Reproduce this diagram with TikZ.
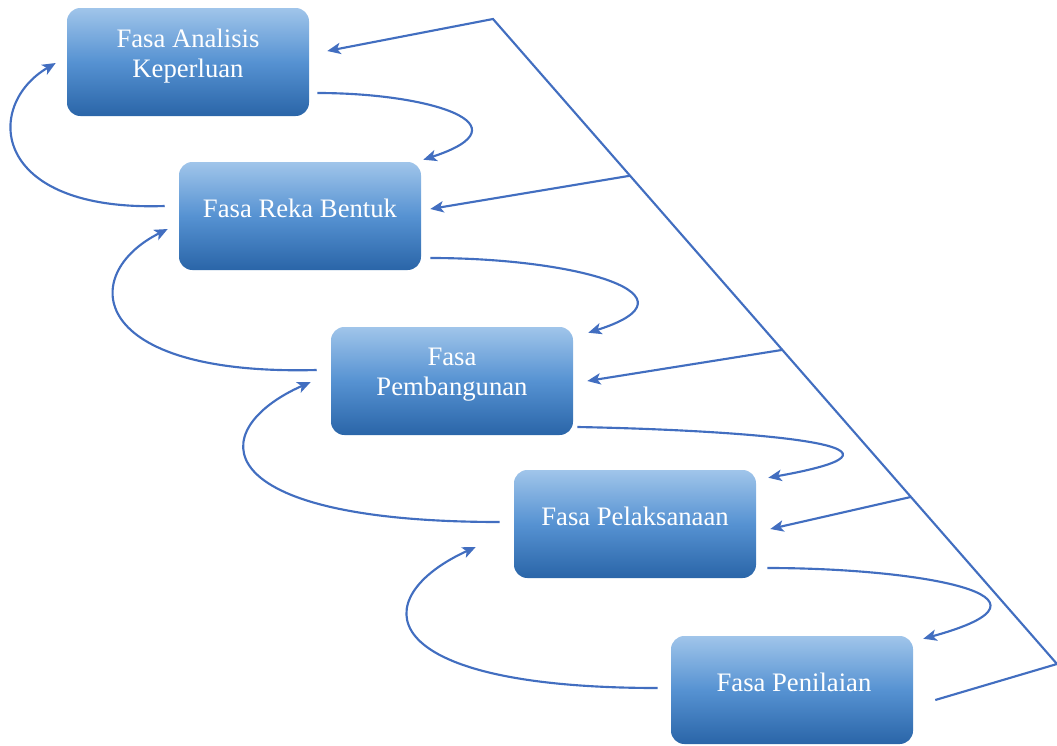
\documentclass[tikz,border=0pt]{standalone}
\usepackage{fontspec}
\setmainfont{Liberation Serif}
\usetikzlibrary{arrows.meta,calc}
\definecolor{garis}{RGB}{66,110,192}
\definecolor{atas}{RGB}{160,197,234}
\definecolor{tengah}{RGB}{86,146,210}
\definecolor{bawah}{RGB}{42,101,168}

\begin{document}
\begin{tikzpicture}[x=0.75pt, y=-0.75pt,
		fasa/.style={rectangle, rounded corners=10pt, minimum width=181.5pt, minimum height=81pt, inner sep=0pt, top color=atas, bottom color=bawah, middle color=tengah, draw=none},
		fasatext/.style={inner sep=0pt, align=center, text=white, font=\fontsize{20}{22.5}\selectfont},
		flow/.style={draw=garis, line width=1.6pt, -{Stealth[length=10pt, width=8.5pt, inset=2.5pt]}}]
		\useasboundingbox (0, 0) rectangle (1057, 746);

		\node[fasa] (b1) at (188, 62) {};
		\node[fasa] (b2) at (300, 216) {};
		\node[fasa] (b3) at (452, 381) {};
		\node[fasa] (b4) at (635, 524) {};
		\node[fasa] (b5) at (792, 690) {};

		\node[fasatext] (t1) at (188, 56) {Fasa Analisis\\Keperluan};
		\node[fasatext] (t2) at (300, 208) {Fasa Reka Bentuk};
		\node[fasatext] (t3) at (452, 375) {Fasa\\Pembangunan};
		\node[fasatext] (t4) at (635, 516) {Fasa Pelaksanaan};
		\node[fasatext] (t5) at (794, 682) {Fasa Penilaian};

		\coordinate (k1) at (1057, 664);
		\coordinate (k2) at (493, 19);

		\draw[flow] ($(b1.east)+(8,31)$) .. controls +(113,0) and +(107,-35) .. ($(b2.north east)+(2,-2)$);
		\draw[flow] ($(b2.east)+(9,42)$) .. controls +(150,0) and +(117,-37) .. ($(b3.north east)+(15,6)$);
		\draw[flow] ($(b3.east)+(4,46)$) .. controls +(160,3) and +(185,-33) .. ($(b4.north east)+(12,8)$);
		\draw[flow] ($(b4.east)+(11,44)$) .. controls +(150,0) and +(157,-43) .. ($(b5.north east)+(10,3)$);

		\draw[flow] ($(b2.west)+(-14,-10)$) .. controls +(-175,6) and +(-72,42) .. ($(b1.west)+(-11,1)$);
		\draw[flow] ($(b3.west)+(-14,-11)$) .. controls +(-230,6) and +(-90,45) .. ($(b2.west)+(-11,13)$);
		\draw[flow] ($(b4.west)+(-14,-2)$) .. controls +(-295,0) and +(-108,48) .. ($(b3.west)+(-20,1)$);
		\draw[flow] ($(b5.west)+(-13,-2)$) .. controls +(-290,0) and +(-110,50) .. ($(b4.west)+(-38,23)$);

		\draw[flow] ($(b5.east)+(22,10)$) -- (k1) -- (k2) -- ($(b1.east)+(18,-11)$);
		\draw[flow] ($(k2)!0.243!(k1)$) -- ($(b2.east)+(9,-7)$);
		\draw[flow] ($(k2)!0.513!(k1)$) -- ($(b3.east)+(14,0)$);
		\draw[flow] ($(k2)!0.741!(k1)$) -- ($(b4.east)+(14,5)$);
	\end{tikzpicture}
\end{document}
